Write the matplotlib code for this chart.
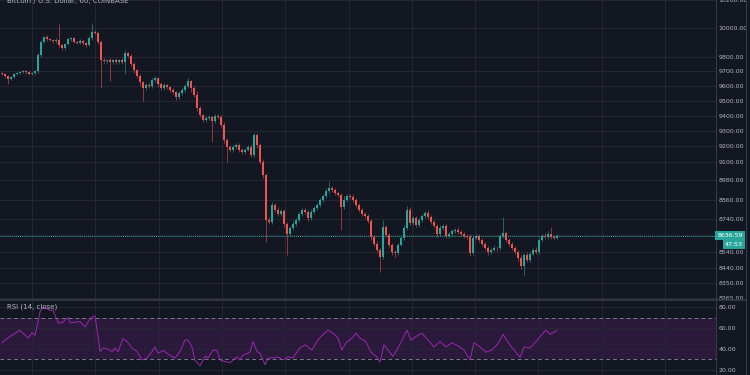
import matplotlib
matplotlib.use('Agg')
import matplotlib.pyplot as plt
import matplotlib.transforms as mtransforms
from matplotlib.lines import Line2D
from matplotlib.ticker import FixedLocator, FixedFormatter, NullLocator
import numpy as np

## Data (hourly candles, BTC/USD)
first_open = 9690
closes = [
    9680, 9667, 9646, 9660, 9680, 9687, 9694, 9701, 9694, 9680,
    9687, 9701, 9811, 9902, 9937, 9923, 9916, 9909, 9916, 9881,
    9860, 9888, 9923, 9930, 9902, 9898, 9909, 9895, 9881, 9930,
    9972, 9968, 9902, 9777, 9770, 9777, 9763, 9777, 9763, 9777,
    9763, 9825, 9804, 9749, 9708, 9667, 9626, 9585, 9605, 9599,
    9639, 9653, 9612, 9585, 9605, 9592, 9572, 9558, 9525, 9551,
    9572, 9599, 9633, 9585, 9538, 9452, 9405, 9372, 9385, 9392,
    9365, 9398, 9392, 9339, 9241, 9196, 9177, 9196, 9209, 9177,
    9164, 9177, 9196, 9145, 9273, 9209, 9100, 9015, 8733, 8721,
    8826, 8795, 8770, 8788, 8708, 8647, 8684, 8708, 8733, 8770,
    8795, 8782, 8745, 8782, 8807, 8826, 8857, 8882, 8914, 8933,
    8920, 8901, 8889, 8813, 8857, 8882, 8878, 8857, 8826, 8795,
    8770, 8757, 8727, 8629, 8587, 8551, 8509, 8690, 8641, 8581,
    8539, 8533, 8581, 8623, 8684, 8795, 8715, 8745, 8702, 8733,
    8757, 8776, 8751, 8721, 8696, 8647, 8684, 8696, 8635, 8647,
    8666, 8672, 8660, 8647, 8635, 8629, 8533, 8623, 8635, 8611,
    8587, 8563, 8539, 8551, 8563, 8560, 8635, 8654, 8611, 8587,
    8563, 8539, 8503, 8455, 8521, 8491, 8527, 8551, 8539, 8611,
    8635, 8629, 8647, 8629, 8623, 8636.59,
]
# wick length above / below the body, in dollars
wick_hi = [
    8, 6, 10, 5, 9, 7, 6, 10, 8, 6,
    9, 7, 12, 18, 10, 14, 9, 8, 12, 112,
    10, 9, 14, 8, 11, 9, 12, 7, 10, 15,
    63, 12, 10, 18, 14, 10, 12, 9, 15, 11,
    13, 21, 10, 14, 12, 9, 15, 10, 16, 12,
    14, 18, 10, 12, 15, 9, 11, 14, 10, 13,
    12, 15, 20, 10, 12, 25, 14, 10, 16, 12,
    9, 15, 12, 14, 18, 10, 12, 15, 9, 13,
    11, 14, 12, 10, 16, 12, 14, 15, 10, 20,
    18, 12, 20, 15, 10, 12, 14, 18, 12, 14,
    10, 15, 12, 16, 10, 14, 12, 15, 18, 44,
    12, 10, 14, 12, 28, 15, 12, 14, 10, 12,
    15, 10, 12, 14, 10, 16, 12, 43, 15, 12,
    10, 12, 14, 12, 18, 25, 20, 12, 15, 10,
    14, 12, 18, 12, 10, 14, 16, 12, 10, 14,
    12, 10, 15, 12, 10, 14, 16, 12, 10, 15,
    12, 14, 10, 12, 15, 10, 14, 97, 12, 10,
    14, 12, 10, 15, 12, 14, 10, 12, 15, 14,
    12, 16, 18, 43, 10, 8,
]
wick_lo = [
    8, 10, 34, 6, 9, 7, 8, 6, 10, 8,
    7, 9, 10, 12, 8, 11, 9, 10, 12, 15,
    14, 10, 9, 12, 8, 10, 9, 12, 10, 8,
    10, 12, 14, 192, 15, 12, 130, 14, 10, 12,
    15, 83, 12, 15, 18, 14, 20, 85, 12, 15,
    10, 14, 18, 12, 15, 10, 14, 12, 20, 15,
    12, 10, 14, 25, 15, 18, 14, 12, 10, 15,
    137, 12, 15, 14, 18, 96, 12, 15, 14, 12,
    15, 12, 10, 14, 12, 18, 15, 20, 134, 15,
    12, 15, 14, 12, 18, 126, 14, 12, 10, 15,
    12, 14, 18, 12, 10, 14, 12, 10, 15, 12,
    14, 12, 10, 141, 15, 12, 14, 10, 12, 15,
    14, 12, 15, 18, 14, 16, 89, 12, 14, 15,
    18, 24, 12, 10, 14, 12, 15, 10, 14, 12,
    10, 12, 14, 15, 12, 18, 10, 12, 15, 12,
    10, 14, 12, 15, 12, 14, 18, 12, 10, 14,
    12, 15, 18, 12, 10, 14, 12, 10, 14, 12,
    15, 12, 18, 20, 54, 12, 14, 10, 12, 14,
    12, 10, 14, 12, 10, 8,
]

# RSI line vertices (candle index, value)
rsi_pos = [0, 2, 6, 7, 8.7, 10, 11, 12, 12.7, 13.7, 16, 17, 18.7, 20, 21, 22, 22.7, 26, 27.7, 28.7,
           30, 31, 32.7, 33.7, 35.3, 36.7, 37.7, 38.7, 40.3, 41.7, 43.3, 45, 46.7, 48.3, 50, 51, 52,
           53.7, 56, 57.7, 59.3, 61, 62, 63.3, 64.3, 66, 67.7, 68.7, 70.3, 71.7, 72.7, 74.3, 76, 78.3,
           79.3, 80.3, 82, 82.7, 83.7, 85, 86, 87.7, 88.7, 90.3, 92, 93.7, 95.3, 97, 99.3, 101, 103.3,
           105.3, 106.7, 108.7, 110.3, 112, 113.3, 114.7, 116.7, 118, 119.3, 121.3, 123, 124.7, 126,
           127.3, 128.7, 130.3, 132, 133.7, 135, 136.3, 138, 140, 142, 144, 146, 148, 150, 152, 154,
           156, 157.3, 159.3, 161.3, 163.3, 165.3, 167, 168.7, 170.7, 172.7, 174, 176, 178, 179.7,
           181.3, 182.7, 184, 185]
rsi_val = [46, 50.5, 58, 55, 50.5, 55.5, 53, 66, 75.5, 80, 77, 77, 65, 65, 67.5, 70, 65, 66, 61, 66,
           70.5, 71.5, 37.5, 41, 40, 37.5, 41, 37.5, 50, 47, 41, 37.5, 29.5, 31.5, 37.5, 42, 36,
           38.5, 34, 31.5, 37.5, 48.5, 48.5, 42, 29.5, 24, 33, 31.5, 39, 38.5, 29.5, 28, 27, 32.5,
           29.5, 34, 36, 37.5, 47, 37.5, 36, 25, 31.5, 31.5, 32.5, 29.5, 32.5, 31.5, 41, 44, 39,
           48.5, 53, 58, 55, 50.5, 39, 46, 50.5, 55, 50.5, 47, 37, 33, 27.5,
           44, 39, 33, 41, 50.5, 58, 48.5, 52, 55, 48.5, 42, 47, 42, 46, 43, 39,
           29.5, 46, 42, 37, 39, 45, 54, 46, 39, 32, 42, 41, 47, 53,
           58, 54, 56, 58]

price_ticks = [10200, 10000, 9800, 9700, 9600, 9500, 9400, 9300, 9200, 9100,
               8980, 8860, 8740, 8640, 8540, 8440, 8350, 8265]
rsi_ticks = [80, 60, 40, 20]
last_price = 8636.59
countdown = '47:53'
title = 'Bitcoin / U.S. Dollar, 60, COINBASE'

BG = '#131722'
GRID = '#242733'
UP = '#26a69a'
DOWN = '#ef5350'
TXT = '#b2b5be'
EDGE = '#363a45'

plt.rcParams['font.family'] = ['DejaVu Sans']

opens = np.array([first_open] + closes[:-1])
c = np.array(closes)
pos = np.arange(len(c))
body_lo = np.minimum(opens, c)
body_hi = np.maximum(opens, c)
hi = body_hi + np.array(wick_hi)
lo = body_lo - np.array(wick_lo)
colors = np.where(c >= opens, UP, DOWN)

fig = plt.figure(figsize=(7.5, 3.75), dpi=100, facecolor=BG)
ax = fig.add_axes([0, 76 / 375, 716 / 750, 299 / 375], facecolor=BG)
ax2 = fig.add_axes([0, 0, 716 / 750, 75 / 375], facecolor=BG)

xmin, xmax = -0.667, 238
vgrid = [10 + 21.1 * k for k in range(11)]

## Price panel
ax.vlines(pos, lo, hi, colors=colors, lw=0.6, alpha=0.65, zorder=3)
ax.bar(pos, np.maximum(body_hi - body_lo, 1.5), bottom=body_lo, width=0.8,
       color=colors, linewidth=0, zorder=4)
ax.axhline(last_price, color=UP, lw=0.7, ls=(0, (1, 1)), zorder=2)
ax.set_yscale('log')
ax.set_ylim(8259, 10201)
ax.set_xlim(xmin, xmax)
ax.yaxis.set_major_locator(FixedLocator(price_ticks))
ax.yaxis.set_major_formatter(FixedFormatter(['' if t == 8640 else f'{t:.2f}' for t in price_ticks]))
ax.yaxis.set_minor_locator(NullLocator())
ax.yaxis.tick_right()
ax.set_xticks(vgrid)
ax.tick_params(axis='y', length=0, pad=2, labelsize=4.5, labelcolor=TXT)
ax.tick_params(axis='x', length=0, labelbottom=False)
ax.grid(True, color=GRID, lw=0.8, zorder=0)
for s in ['top', 'bottom', 'left']:
    ax.spines[s].set_visible(False)
ax.spines['right'].set_color(EDGE)
ax.spines['right'].set_linewidth(0.8)

trans = mtransforms.blended_transform_factory(ax.transAxes, ax.transData)
ax.text(1.0377, last_price, '8636.59', transform=trans, ha='right', va='center',
        fontsize=4.5, color='white', zorder=10, clip_on=False,
        bbox=dict(boxstyle='square,pad=0.35', fc=UP, ec='none'))
ax.annotate(countdown, xy=(1.0377, last_price), xycoords=trans, xytext=(0, -6.5),
            textcoords='offset points', ha='right', va='center', fontsize=4.5,
            color='white', zorder=10, annotation_clip=False,
            bbox=dict(boxstyle='square,pad=0.35', fc=UP, ec='none'))

fig.text(7 / 750, 1 - 1.0 / 375, title, fontsize=5, color=TXT, ha='left', va='center')

## RSI panel
ax2.axhspan(30, 70, color='#9c27b0', alpha=0.18, lw=0, zorder=1)
ax2.axhline(70, color='#787b86', lw=0.7, ls=(0, (4, 3)), zorder=2)
ax2.axhline(30, color='#787b86', lw=0.7, ls=(0, (4, 3)), zorder=2)
ax2.plot(rsi_pos, rsi_val, color='#9c27b0', lw=0.7, zorder=3)
ax2.set_xlim(xmin, xmax)
ax2.set_ylim(15.2, 86.7)
ax2.yaxis.tick_right()
ax2.set_yticks(rsi_ticks)
ax2.set_yticklabels([f'{t:.2f}' for t in rsi_ticks])
ax2.set_xticks(vgrid)
ax2.tick_params(axis='y', length=0, pad=2, labelsize=4.5, labelcolor=TXT)
ax2.tick_params(axis='x', length=0, labelbottom=False)
ax2.grid(True, color=GRID, lw=0.8, zorder=0)
for s in ['top', 'bottom', 'left']:
    ax2.spines[s].set_visible(False)
ax2.spines['right'].set_color(EDGE)
ax2.spines['right'].set_linewidth(0.8)
ax2.text(7 / 716, 0.907, 'RSI (14, close)', transform=ax2.transAxes, fontsize=5,
         color=TXT, ha='left', va='center')

## panel separator and outer border
fig.add_artist(Line2D([0, 746 / 750], [75.5 / 375, 75.5 / 375], color=EDGE, lw=1.2))
fig.add_artist(Line2D([746 / 750, 746 / 750], [0, 1], color=EDGE, lw=0.8))

fig.savefig('out.png', dpi=100, facecolor=BG)
